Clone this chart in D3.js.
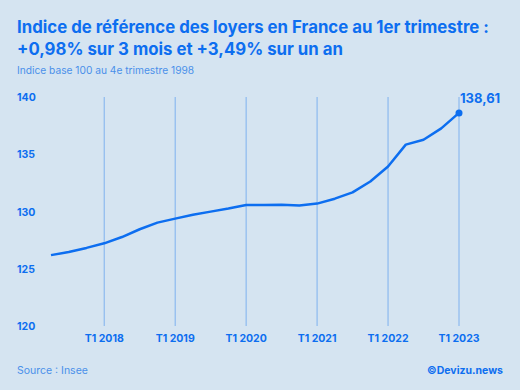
<!DOCTYPE html>
<html>
<head>
<meta charset="utf-8">
<script src="https://cdn.jsdelivr.net/npm/d3@7"></script>
<style>
  body { margin: 0; background: #d5e4f1; }
  svg { display: block; font-family: Inter, "Open Sans", sans-serif; }
</style>
</head>
<body>
<div id="chart"></div>
<script>
// quarters from T2 2017 to T1 2023 (index 0 = T2 2017)
const quarters = ["T2 2017","T3 2017","T4 2017","T1 2018","T2 2018","T3 2018","T4 2018",
  "T1 2019","T2 2019","T3 2019","T4 2019","T1 2020","T2 2020","T3 2020","T4 2020",
  "T1 2021","T2 2021","T3 2021","T4 2021","T1 2022","T2 2022","T3 2022","T4 2022","T1 2023"];
const irl = [126.19,126.46,126.82,127.22,127.77,128.45,129.03,
  129.38,129.72,129.99,130.26,130.57,130.57,130.59,130.52,
  130.69,131.12,131.67,132.62,133.93,135.84,136.27,137.26,138.61];
const xTicks = ["T1 2018","T1 2019","T1 2020","T1 2021","T1 2022","T1 2023"];
const yTicks = [120, 125, 130, 135, 140];

const width = 520, height = 390;
const blue = "#0d6ef0";

const svg = d3.select("#chart").append("svg")
  .attr("width", width).attr("height", height);

svg.append("rect").attr("width", width).attr("height", height).attr("fill", "#d5e4f1");

// title
const title = svg.append("text")
  .attr("x", 17).attr("fill", blue)
  .style("font-weight", 700).style("font-size", "16.8px");
title.append("tspan").attr("x", 17).attr("y", 33).text("Indice de référence des loyers en France au 1er trimestre :");
title.append("tspan").attr("x", 17).attr("y", 55).text("+0,98% sur 3 mois et +3,49% sur un an");

svg.append("text")
  .attr("x", 17).attr("y", 74)
  .attr("fill", "#4a90ea")
  .style("font-size", "10.2px")
  .text("Indice base 100 au 4e trimestre 1998");

const x = d3.scaleLinear()
  .domain([0, quarters.length - 1])
  .range([51, 459]);

const y = d3.scaleLinear()
  .domain([120, 140])
  .range([326, 97]);

// vertical gridlines at T1 each year
svg.append("g")
  .selectAll("line")
  .data(xTicks)
  .join("line")
  .attr("x1", d => x(quarters.indexOf(d)))
  .attr("x2", d => x(quarters.indexOf(d)))
  .attr("y1", y(140))
  .attr("y2", y(120))
  .attr("stroke", "#7fb1ef")
  .attr("stroke-width", 1);

// x labels
svg.append("g")
  .selectAll("text")
  .data(xTicks)
  .join("text")
  .attr("x", d => x(quarters.indexOf(d)))
  .attr("y", 342)
  .attr("text-anchor", "middle")
  .attr("fill", blue)
  .style("font-weight", 700)
  .style("font-size", "10.5px")
  .text(d => d);

// y labels
svg.append("g")
  .selectAll("text")
  .data(yTicks)
  .join("text")
  .attr("x", 17)
  .attr("y", d => y(d) + 4)
  .attr("fill", blue)
  .style("font-weight", 700)
  .style("font-size", "10.5px")
  .text(d => d);

const line = d3.line()
  .x((d, i) => x(i))
  .y(d => y(d));

svg.append("path")
  .datum(irl)
  .attr("d", line)
  .attr("fill", "none")
  .attr("stroke", blue)
  .attr("stroke-width", 2.5)
  .attr("stroke-linejoin", "round");

const last = irl.length - 1;
svg.append("circle")
  .attr("cx", x(last)).attr("cy", y(irl[last]))
  .attr("r", 3.5).attr("fill", blue);

svg.append("text")
  .attr("x", x(last) + 1).attr("y", y(irl[last]) - 10)
  .attr("fill", blue)
  .style("font-weight", 700)
  .style("font-size", "13px")
  .text(irl[last].toFixed(2).replace(".", ","));

// footer
svg.append("text")
  .attr("x", 17).attr("y", 374)
  .attr("fill", "#4a90ea")
  .style("font-size", "10.5px")
  .text("Source : Insee");

svg.append("text")
  .attr("x", 503).attr("y", 374)
  .attr("text-anchor", "end")
  .attr("fill", blue)
  .style("font-weight", 700)
  .style("font-size", "10.5px")
  .text("©Devizu.news");
</script>
</body>
</html>
